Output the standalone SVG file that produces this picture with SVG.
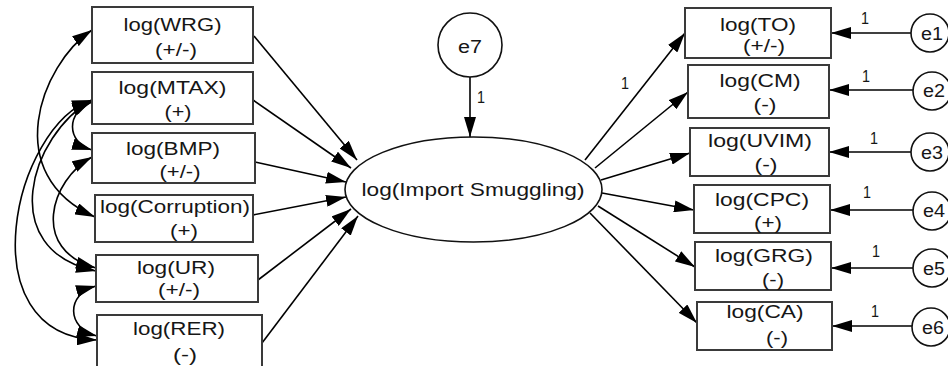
<svg xmlns="http://www.w3.org/2000/svg" width="948" height="366" viewBox="0 0 948 366">
  <style>
    .box { fill: #ffffff; stroke: #3a3a3a; stroke-width: 2; }
    .node { fill: #ffffff; stroke: #111111; stroke-width: 1.6; }
    .lbl { font-family: "Liberation Sans", Arial, sans-serif; font-size: 18px; fill: #161616; text-anchor: middle; }
    .big { font-size: 19px; }
    .w { font-size: 16px; }
    .edge { fill: none; stroke: #000000; stroke-width: 1.6; }
  </style>
  <defs>
    <marker id="head" markerUnits="userSpaceOnUse" markerWidth="20" markerHeight="12" refX="20" refY="6" orient="auto">
      <path d="M0,0 L20,6 L0,12 z" fill="#000000"/>
    </marker>
    <marker id="head2" markerUnits="userSpaceOnUse" markerWidth="20" markerHeight="12" refX="20" refY="6" orient="auto-start-reverse">
      <path d="M0,0 L20,6 L0,12 z" fill="#000000"/>
    </marker>
  </defs>

  <rect width="948" height="366" fill="#ffffff"/>

  <!-- connectors -->
  <g id="connectors">
    <!-- predictors to the latent variable -->
    <line class="edge" x1="254" y1="36" x2="357" y2="160" marker-end="url(#head)"/>
    <line class="edge" x1="253" y1="100" x2="351" y2="168" marker-end="url(#head)"/>
    <line class="edge" x1="255" y1="162" x2="346" y2="182" marker-end="url(#head)"/>
    <line class="edge" x1="253" y1="215" x2="346" y2="197" marker-end="url(#head)"/>
    <line class="edge" x1="258" y1="280" x2="351" y2="209" marker-end="url(#head)"/>
    <line class="edge" x1="262" y1="343" x2="358" y2="216" marker-end="url(#head)"/>
    <!-- disturbance of the latent variable -->
    <line class="edge" x1="470" y1="77" x2="470" y2="137" marker-end="url(#head)"/>
    <!-- latent variable to indicators -->
    <line class="edge" x1="585" y1="160" x2="685" y2="33" marker-end="url(#head)"/>
    <line class="edge" x1="595" y1="168" x2="688" y2="92" marker-end="url(#head)"/>
    <line class="edge" x1="601" y1="180" x2="690" y2="153" marker-end="url(#head)"/>
    <line class="edge" x1="602" y1="193" x2="694" y2="210" marker-end="url(#head)"/>
    <line class="edge" x1="598" y1="206" x2="695" y2="267" marker-end="url(#head)"/>
    <line class="edge" x1="590" y1="213" x2="697" y2="323" marker-end="url(#head)"/>
    <!-- measurement errors to indicators -->
    <line class="edge" x1="911" y1="33" x2="831" y2="33" marker-end="url(#head)"/>
    <line class="edge" x1="913" y1="90" x2="829" y2="90" marker-end="url(#head)"/>
    <line class="edge" x1="911" y1="152" x2="829" y2="152" marker-end="url(#head)"/>
    <line class="edge" x1="913" y1="210" x2="830" y2="210" marker-end="url(#head)"/>
    <line class="edge" x1="913" y1="268" x2="831" y2="268" marker-end="url(#head)"/>
    <line class="edge" x1="912" y1="326" x2="832" y2="326" marker-end="url(#head)"/>
    <!-- covariances between predictors -->
    <path class="edge" d="M92,30 C40,65 0,175 95,217" marker-start="url(#head2)" marker-end="url(#head2)"/>
    <path class="edge" d="M92,102 C66,112 66,142 92,150" marker-start="url(#head2)" marker-end="url(#head2)"/>
    <path class="edge" d="M92,100 C30,135 -5,250 96,271" marker-start="url(#head2)" marker-end="url(#head2)"/>
    <path class="edge" d="M92,100 C14,125 -34,335 97,340" marker-start="url(#head2)" marker-end="url(#head2)"/>
    <path class="edge" d="M92,157 C50,180 30,250 96,268" marker-start="url(#head2)" marker-end="url(#head2)"/>
    <path class="edge" d="M96,286 C66,294 66,328 97,336" marker-start="url(#head2)" marker-end="url(#head2)"/>
    <!-- path weights -->
    <text class="lbl w" x="481" y="103" textLength="8" lengthAdjust="spacingAndGlyphs">1</text>
    <text class="lbl w" x="625" y="89" textLength="8" lengthAdjust="spacingAndGlyphs">1</text>
    <text class="lbl w" x="865" y="24" textLength="8" lengthAdjust="spacingAndGlyphs">1</text>
    <text class="lbl w" x="866" y="82" textLength="8" lengthAdjust="spacingAndGlyphs">1</text>
    <text class="lbl w" x="874" y="144" textLength="8" lengthAdjust="spacingAndGlyphs">1</text>
    <text class="lbl w" x="867" y="198" textLength="8" lengthAdjust="spacingAndGlyphs">1</text>
    <text class="lbl w" x="876" y="257" textLength="8" lengthAdjust="spacingAndGlyphs">1</text>
    <text class="lbl w" x="875" y="317" textLength="8" lengthAdjust="spacingAndGlyphs">1</text>
  </g>

  <!-- predictors -->
  <g id="wrg">
    <rect class="box" x="92" y="7" width="161" height="56"/>
    <text class="lbl" x="172.5" y="31" textLength="98" lengthAdjust="spacingAndGlyphs">log(WRG)</text>
    <text class="lbl" x="176" y="56" textLength="42" lengthAdjust="spacingAndGlyphs">(+/-)</text>
  </g>
  <g id="mtax">
    <rect class="box" x="92" y="72" width="161" height="52"/>
    <text class="lbl" x="172.5" y="94" textLength="108" lengthAdjust="spacingAndGlyphs">log(MTAX)</text>
    <text class="lbl" x="178" y="118" textLength="27" lengthAdjust="spacingAndGlyphs">(+)</text>
  </g>
  <g id="bmp">
    <rect class="box" x="92" y="133" width="163" height="50"/>
    <text class="lbl" x="173" y="155" textLength="94" lengthAdjust="spacingAndGlyphs">log(BMP)</text>
    <text class="lbl" x="180" y="178" textLength="41" lengthAdjust="spacingAndGlyphs">(+/-)</text>
  </g>
  <g id="corruption">
    <rect class="box" x="95" y="195" width="158" height="47"/>
    <text class="lbl" x="175" y="213" textLength="150" lengthAdjust="spacingAndGlyphs">log(Corruption)</text>
    <text class="lbl" x="184" y="237" textLength="28" lengthAdjust="spacingAndGlyphs">(+)</text>
  </g>
  <g id="ur">
    <rect class="box" x="96" y="255" width="162" height="47"/>
    <text class="lbl" x="176" y="274" textLength="78" lengthAdjust="spacingAndGlyphs">log(UR)</text>
    <text class="lbl" x="179" y="296" textLength="42" lengthAdjust="spacingAndGlyphs">(+/-)</text>
  </g>
  <g id="rer">
    <rect class="box" x="97" y="315" width="165" height="55"/>
    <text class="lbl" x="179" y="335" textLength="92" lengthAdjust="spacingAndGlyphs">log(RER)</text>
    <text class="lbl" x="185" y="361" textLength="24" lengthAdjust="spacingAndGlyphs">(-)</text>
  </g>

  <!-- latent variable and its disturbance -->
  <g id="import-smuggling">
    <ellipse class="node" cx="473.5" cy="189.5" rx="128.5" ry="52.5"/>
    <text class="lbl big" x="473" y="196" textLength="223" lengthAdjust="spacingAndGlyphs">log(Import Smuggling)</text>
  </g>
  <g id="e7">
    <circle class="node" cx="470" cy="45" r="32"/>
    <text class="lbl" x="470" y="53" textLength="24" lengthAdjust="spacingAndGlyphs">e7</text>
  </g>

  <!-- indicators -->
  <g id="to">
    <rect class="box" x="685" y="8" width="146" height="50"/>
    <text class="lbl" x="758" y="31" textLength="76" lengthAdjust="spacingAndGlyphs">log(TO)</text>
    <text class="lbl" x="764" y="52" textLength="42" lengthAdjust="spacingAndGlyphs">(+/-)</text>
  </g>
  <g id="cm">
    <rect class="box" x="688" y="65" width="141" height="53"/>
    <text class="lbl" x="760" y="87" textLength="81" lengthAdjust="spacingAndGlyphs">log(CM)</text>
    <text class="lbl" x="765" y="111" textLength="23" lengthAdjust="spacingAndGlyphs">(-)</text>
  </g>
  <g id="uvim">
    <rect class="box" x="690" y="128" width="139" height="48"/>
    <text class="lbl" x="760" y="147" textLength="104" lengthAdjust="spacingAndGlyphs">log(UVIM)</text>
    <text class="lbl" x="766" y="171" textLength="23" lengthAdjust="spacingAndGlyphs">(-)</text>
  </g>
  <g id="cpc">
    <rect class="box" x="694" y="185" width="136" height="48"/>
    <text class="lbl" x="762" y="206" textLength="94" lengthAdjust="spacingAndGlyphs">log(CPC)</text>
    <text class="lbl" x="768" y="229" textLength="28" lengthAdjust="spacingAndGlyphs">(+)</text>
  </g>
  <g id="grg">
    <rect class="box" x="695" y="242" width="136" height="48"/>
    <text class="lbl" x="764" y="262" textLength="98" lengthAdjust="spacingAndGlyphs">log(GRG)</text>
    <text class="lbl" x="773" y="286" textLength="22" lengthAdjust="spacingAndGlyphs">(-)</text>
  </g>
  <g id="ca">
    <rect class="box" x="697" y="302" width="135" height="48"/>
    <text class="lbl" x="765" y="318" textLength="77" lengthAdjust="spacingAndGlyphs">log(CA)</text>
    <text class="lbl" x="777" y="344" textLength="22" lengthAdjust="spacingAndGlyphs">(-)</text>
  </g>

  <!-- measurement errors -->
  <g id="e1">
    <circle class="node" cx="930" cy="33" r="19"/>
    <text class="lbl" x="932" y="40" textLength="22" lengthAdjust="spacingAndGlyphs">e1</text>
  </g>
  <g id="e2">
    <circle class="node" cx="932" cy="91" r="19"/>
    <text class="lbl" x="934" y="97" textLength="22" lengthAdjust="spacingAndGlyphs">e2</text>
  </g>
  <g id="e3">
    <circle class="node" cx="930" cy="152" r="19"/>
    <text class="lbl" x="932" y="159" textLength="22" lengthAdjust="spacingAndGlyphs">e3</text>
  </g>
  <g id="e4">
    <circle class="node" cx="932" cy="211" r="19"/>
    <text class="lbl" x="934" y="217" textLength="22" lengthAdjust="spacingAndGlyphs">e4</text>
  </g>
  <g id="e5">
    <circle class="node" cx="932" cy="268" r="19"/>
    <text class="lbl" x="934" y="275" textLength="22" lengthAdjust="spacingAndGlyphs">e5</text>
  </g>
  <g id="e6">
    <circle class="node" cx="931" cy="327" r="19"/>
    <text class="lbl" x="933" y="334" textLength="22" lengthAdjust="spacingAndGlyphs">e6</text>
  </g>
</svg>
